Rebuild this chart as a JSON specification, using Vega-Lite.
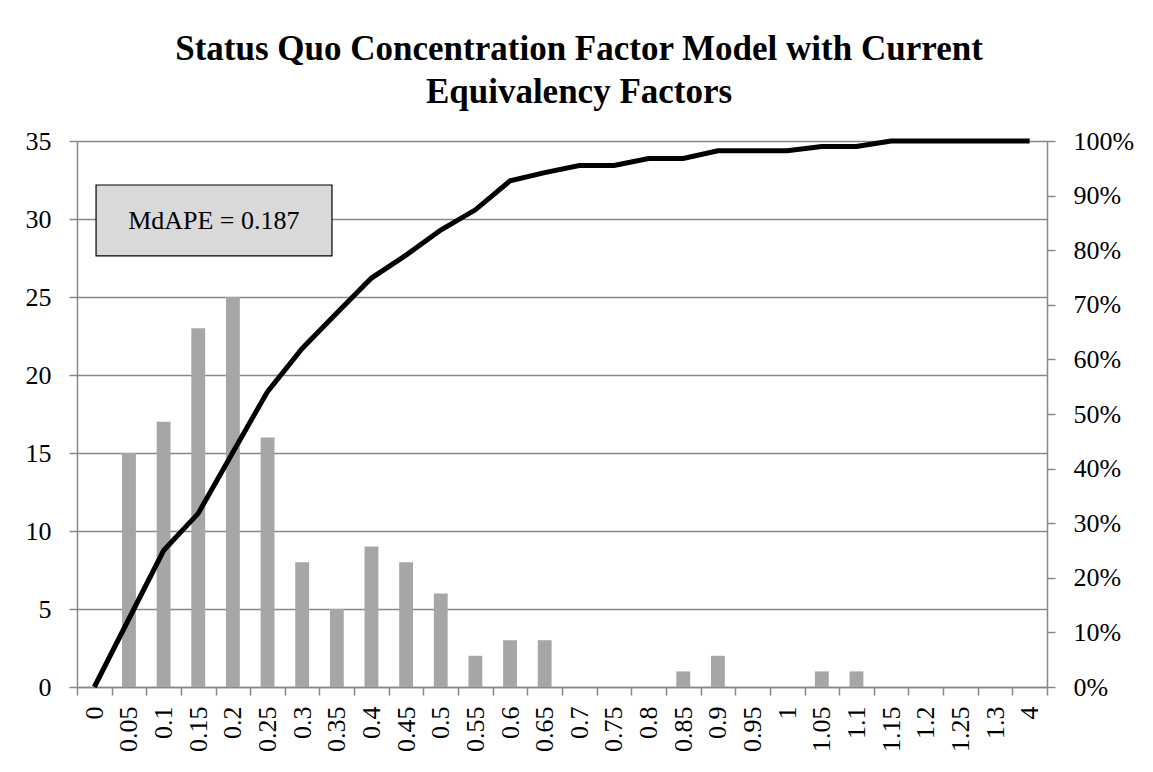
{
  "$schema": "https://vega.github.io/schema/vega-lite/v6.json",
  "width": 970,
  "height": 546,
  "autosize": {"type": "none"},
  "padding": {"left": 77, "top": 141, "right": 106, "bottom": 85},
  "background": "white",
  "title": {
    "text": ["Status Quo Concentration Factor Model with Current", "Equivalency Factors"],
    "font": "Liberation Serif",
    "fontSize": 35,
    "fontWeight": "bold",
    "color": "black",
    "lineHeight": 43,
    "offset": 18,
    "dx": 17,
    "anchor": "middle"
  },
  "datasets": {
    "hist": [
      {"bin": "0", "count": 0, "cum": 0},
      {"bin": "0.05", "count": 15, "cum": 0.125},
      {"bin": "0.1", "count": 17, "cum": 0.25},
      {"bin": "0.15", "count": 23, "cum": 0.318},
      {"bin": "0.2", "count": 25, "cum": 0.43},
      {"bin": "0.25", "count": 16, "cum": 0.541},
      {"bin": "0.3", "count": 8, "cum": 0.62},
      {"bin": "0.35", "count": 5, "cum": 0.685},
      {"bin": "0.4", "count": 9, "cum": 0.749},
      {"bin": "0.45", "count": 8, "cum": 0.791},
      {"bin": "0.5", "count": 6, "cum": 0.837},
      {"bin": "0.55", "count": 2, "cum": 0.874},
      {"bin": "0.6", "count": 3, "cum": 0.927},
      {"bin": "0.65", "count": 3, "cum": 0.942},
      {"bin": "0.7", "count": 0, "cum": 0.955},
      {"bin": "0.75", "count": 0, "cum": 0.955},
      {"bin": "0.8", "count": 0, "cum": 0.968},
      {"bin": "0.85", "count": 1, "cum": 0.968},
      {"bin": "0.9", "count": 2, "cum": 0.982},
      {"bin": "0.95", "count": 0, "cum": 0.982},
      {"bin": "1", "count": 0, "cum": 0.982},
      {"bin": "1.05", "count": 1, "cum": 0.99},
      {"bin": "1.1", "count": 1, "cum": 0.99},
      {"bin": "1.15", "count": 0, "cum": 1},
      {"bin": "1.2", "count": 0, "cum": 1},
      {"bin": "1.25", "count": 0, "cum": 1},
      {"bin": "1.3", "count": 0, "cum": 1},
      {"bin": "4", "count": 0, "cum": 1}
    ],
    "note": [
      {"x1": 0.55, "x2": 7.36, "y1": 27.63, "y2": 32.18, "xc": 3.95, "yc": 29.9, "label": "MdAPE = 0.187"}
    ]
  },
  "layer": [
    {
      "data": {"name": "hist"},
      "mark": {"type": "bar", "color": "#a6a6a6", "width": {"band": 0.4}},
      "encoding": {
        "x": {
          "field": "bin", "type": "nominal", "sort": null,
          "scale": {"type": "band", "paddingInner": 0, "paddingOuter": 0},
          "axis": {
            "title": null, "labelAngle": -90, "tickBand": "extent", "tickSize": 8,
            "labelPadding": 11, "labelFontSize": 26, "grid": false
          }
        },
        "y": {
          "field": "count", "type": "quantitative",
          "scale": {"domain": [0, 35], "nice": false},
          "axis": {
            "title": null, "orient": "left", "values": [0, 5, 10, 15, 20, 25, 30, 35],
            "grid": true, "tickSize": 8, "labelPadding": 18, "labelFontSize": 26
          }
        }
      }
    },
    {
      "data": {"name": "hist"},
      "mark": {"type": "line", "color": "black", "strokeWidth": 5},
      "encoding": {
        "x": {
          "field": "bin", "type": "nominal", "sort": null,
          "scale": {"type": "band", "paddingInner": 0, "paddingOuter": 0},
          "axis": null
        },
        "y": {
          "field": "cum", "type": "quantitative",
          "scale": {"domain": [0, 1], "nice": false},
          "axis": {
            "title": null, "orient": "right", "format": ".0%",
            "values": [0, 0.1, 0.2, 0.3, 0.4, 0.5, 0.6, 0.7, 0.8, 0.9, 1],
            "grid": false, "tickSize": 8, "labelPadding": 18, "labelFontSize": 26
          }
        }
      }
    },
    {
      "data": {"name": "note"},
      "mark": {"type": "rect", "fill": "#d9d9d9", "stroke": "black", "strokeWidth": 1.2},
      "encoding": {
        "x": {"field": "x1", "type": "quantitative", "scale": {"domain": [0, 28], "nice": false, "zero": false}, "axis": null},
        "x2": {"field": "x2"},
        "y": {"field": "y1", "type": "quantitative", "scale": {"domain": [0, 35], "nice": false}, "axis": null},
        "y2": {"field": "y2"}
      }
    },
    {
      "data": {"name": "note"},
      "mark": {"type": "text", "fontSize": 26, "font": "Liberation Serif", "color": "black", "align": "center", "baseline": "middle"},
      "encoding": {
        "x": {"field": "xc", "type": "quantitative", "scale": {"domain": [0, 28], "nice": false, "zero": false}, "axis": null},
        "y": {"field": "yc", "type": "quantitative", "scale": {"domain": [0, 35], "nice": false}, "axis": null},
        "text": {"field": "label"}
      }
    }
  ],
  "resolve": {"scale": {"x": "independent", "y": "independent"}},
  "config": {
    "view": {"stroke": null},
    "font": "Liberation Serif",
    "axis": {
      "labelFont": "Liberation Serif",
      "labelColor": "black",
      "domainColor": "#888888",
      "domainWidth": 1.5,
      "tickColor": "#888888",
      "tickWidth": 1.5,
      "gridColor": "#888888",
      "gridWidth": 1.5,
      "gridOpacity": 1
    }
  }
}
